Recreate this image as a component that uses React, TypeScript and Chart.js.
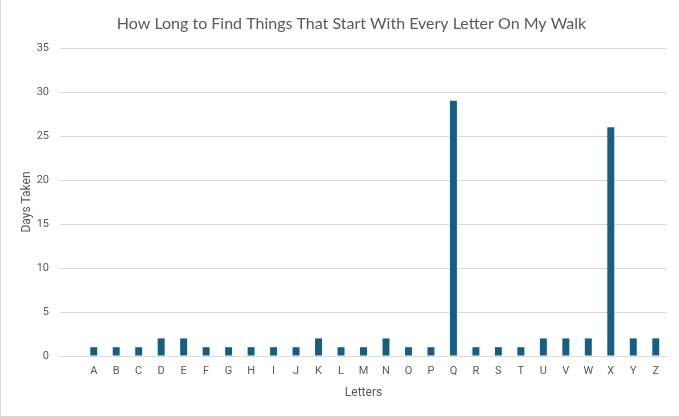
import React, { useEffect, useRef } from "react";
import { Chart, registerables } from "chart.js";

Chart.register(...registerables);

const categories = ["", "A", "B", "C", "D", "E", "F", "G", "H", "I", "J", "K", "L", "M", "N", "O", "P", "Q", "R", "S", "T", "U", "V", "W", "X", "Y", "Z"];
const daysTaken = [null, 1, 1, 1, 2, 2, 1, 1, 1, 1, 1, 2, 1, 1, 2, 1, 1, 29, 1, 1, 1, 2, 2, 2, 26, 2, 2];
const yTicks = { min: 0, max: 35, step: 5 };
const titleText = "How Long to Find Things That Start With Every Letter On My Walk";
const yTitle = "Days Taken";
const xTitle = "Letters";

const titlePlugin = {
  id: "customTitle",
  afterDraw(chart: any) {
    const c = chart.ctx;
    c.save();
    c.fillStyle = "#595959";
    c.font = "16px Lato";
    c.textAlign = "center";
    c.textBaseline = "middle";
    c.fillText(titleText, 351.5, 24);
    c.restore();
  },
};

export default function App() {
  const ref = useRef<HTMLCanvasElement | null>(null);
  useEffect(() => {
    document.body.style.margin = "0";
    const ctx = ref.current!;
    const chart = new Chart(ctx, {
      type: "bar",
      data: {
        labels: categories,
        datasets: [
          {
            data: daysTaken as any,
            backgroundColor: "#156082",
            borderWidth: 0,
            categoryPercentage: 1,
            barPercentage: 0.31,
          },
        ],
      },
      plugins: [titlePlugin],
      options: {
        animation: false,
        responsive: false,
        devicePixelRatio: 1,
        layout: { padding: { left: 0, right: 12, top: 48, bottom: 0 } },
        plugins: {
          legend: { display: false },
          tooltip: { enabled: false },
          title: { display: false },
        },
        scales: {
          x: {
            grid: { display: false, drawTicks: false },
            border: { display: true, color: "#d9d9d9" },
            ticks: {
              color: "#595959",
              font: { family: "Roboto", size: 11 },
              padding: 9,
              autoSkip: false,
              maxRotation: 0,
            },
            title: {
              display: true,
              text: xTitle,
              color: "#595959",
              font: { family: "Roboto", size: 12 },
              padding: { top: 0, bottom: 17 },
            },
            afterFit: (s: any) => {
              s.height = 61;
            },
          },
          y: {
            min: yTicks.min,
            max: yTicks.max,
            grid: { color: "#d9d9d9", drawTicks: false },
            border: { display: false },
            ticks: {
              stepSize: yTicks.step,
              color: "#595959",
              font: { family: "Roboto", size: 11 },
              padding: 11,
            },
            title: {
              display: true,
              text: yTitle,
              color: "#595959",
              font: { family: "Roboto", size: 12 },
              padding: { top: 20, bottom: 0 },
            },
            afterFit: (s: any) => {
              s.width = 60;
            },
          },
        },
      },
    });
    return () => chart.destroy();
  }, []);
  return (
    <div style={{ position: "absolute", left: 0, top: 0, width: 679, height: 417, background: "#fff" }}>
      <canvas ref={ref} width={679} height={417} style={{ position: "absolute", left: 0, top: 0 }} />
      <div
        style={{
          position: "absolute",
          left: 0,
          top: 0,
          width: 679,
          height: 417,
          boxSizing: "border-box",
          border: "1px solid #d9d9d9",
          borderTop: "none",
          borderRight: "none",
          pointerEvents: "none",
        }}
      />
    </div>
  );
}
